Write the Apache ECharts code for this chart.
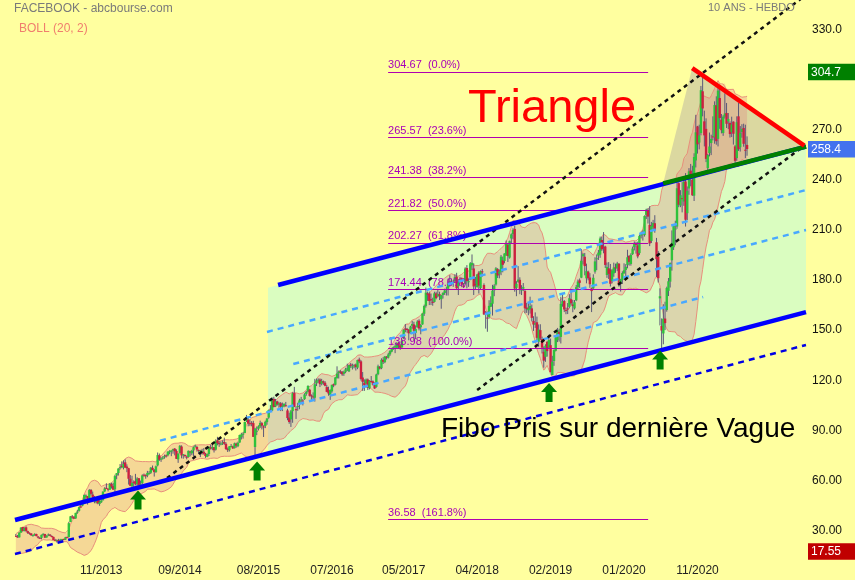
<!DOCTYPE html>
<html><head><meta charset="utf-8">
<script src="https://cdn.jsdelivr.net/npm/echarts@6/dist/echarts.min.js"></script>
<style>html,body{margin:0;padding:0;background:#FFFF9F;}#c{width:855px;height:580px;}</style>
</head><body><div id="c"></div>
<script>
// ---------- DATA ----------
const firstWeek = '2012-12-17';
const totalWeeks = 463;                 // weekly categories incl. empty future weeks
const tickIdx = [50, 96, 142, 185, 227, 270, 313, 356, 399];
const tickLabels = ['11/2013','09/2014','08/2015','07/2016','05/2017','04/2018','02/2019','01/2020','11/2020'];
const yTickHidden = [0, 300, 360];

// closes of the 19 weeks before the first displayed candle (Bollinger warm-up)
const warmupCloses = [21.81,19.05,19.41,18.06,18.98,22.00,22.86,21.66,20.91,19.52,19.00,21.94,21.18,19.21,23.56,24.00,28.00,27.49,26.81];

// weekly candles [open, high, low, close]
const c2012 = [[26.8,27.9,26.1,26.26],[26.4,27.3,25.7,25.91],[25.9,28.9,25.8,28.76]];
const c2013 = [[28.7,31.96,28.65,31.72],[32.1,32.2,29.4,29.66],[29.8,31.9,29.5,31.54],[31.9,32.5,29.0,29.73],
[29.6,29.9,27.9,28.55],[28.6,28.9,27.5,28.32],[28.2,28.4,26.8,27.13],[27.2,27.5,26.3,27.25],
[27.3,28.3,26.8,27.96],[27.9,28.1,26.5,26.65],[26.4,26.7,25.3,25.73],[25.6,26.1,25.1,25.58],
[25.6,27.6,24.7,27.39],[27.4,28.3,26.9,28.02],[27.9,28.0,25.5,25.73],[25.8,27.1,25.8,26.85],[27.0,28.2,26.6,27.57],
[27.5,27.9,26.6,26.82],[26.7,27.1,25.9,26.25],[26.2,26.3,24.2,24.31],[24.4,25.0,23.9,24.35],
[24.3,24.7,22.8,24.33],[24.3,25.0,23.9,24.03],[24.0,25.0,23.6,24.53],[24.3,25.0,23.7,24.88],
[24.9,25.1,24.2,24.37],[24.5,26.2,24.3,25.88],[26.0,26.4,25.6,25.88],[26.1,35.2,25.8,34.36],[35.1,38.6,35.0,38.50],
[38.4,39.3,37.0,38.22],[38.2,38.6,36.9,37.08],[37.2,40.6,37.0,40.55],[40.9,42.3,40.0,41.29],
[41.8,44.3,41.3,43.95],[44.4,45.6,43.6,44.31],[44.9,47.6,44.5,47.49],[47.5,51.6,47.4,51.24],[50.1,51.6,48.9,51.04],
[50.6,50.6,45.5,49.11],[49.1,54.8,48.8,54.22],[54.3,54.8,51.0,51.95],[51.5,53.3,47.8,49.75],
[49.4,50.7,46.3,47.53],[46.9,49.2,46.2,49.01],[49.0,49.2,45.7,46.23],[45.9,48.2,44.8,47.01],
[46.9,49.8,46.5,47.94],[48.1,53.4,48.0,53.32],[53.4,55.9,53.1,55.12],[55.5,58.3,55.1,55.44],[55.0,55.2,53.4,54.56]];
const c2014 = [[54.4,58.4,54.4,57.94],[57.9,58.6,55.1,56.30],[56.6,58.6,54.4,54.45],[54.7,63.4,51.9,62.57],
[63.0,64.4,60.7,64.32],[64.4,67.3,62.9,67.09],[67.6,69.8,66.5,68.06],[68.7,71.4,67.3,68.46],
[67.5,72.0,66.6,69.80],[70.8,72.6,67.5,67.72],[68.3,69.6,64.9,67.24],[67.3,67.5,57.5,60.97],[61.0,63.2,56.6,56.75],
[56.5,62.8,54.7,58.53],[59.0,60.0,55.0,58.94],[59.6,63.9,57.0,57.71],[57.7,61.9,55.6,61.15],
[61.3,61.3,56.6,57.24],[57.6,59.9,56.6,58.02],[58.4,63.6,57.8,63.00],[63.4,64.1,62.2,63.30],
[63.2,63.6,61.0,62.50],[62.9,65.7,61.9,64.50],[64.3,65.6,63.4,64.50],[64.6,68.0,63.9,67.60],[67.5,68.9,66.0,66.29],
[66.3,66.8,62.3,64.97],[65.0,68.9,64.5,68.42],[69.0,76.7,68.4,75.19],[75.0,76.1,71.7,72.36],
[72.4,73.9,71.1,73.06],[73.5,74.5,72.5,73.63],[73.9,75.4,73.0,74.57],[75.0,75.5,73.7,74.82],
[75.0,77.4,74.4,77.26],[77.3,78.1,75.7,77.48],[77.2,78.0,74.5,77.91],[77.9,79.0,76.0,78.75],[79.0,79.4,75.0,77.44],
[77.6,78.6,72.8,72.91],[72.6,76.3,70.5,75.95],[76.5,81.2,76.0,80.67],[80.3,81.0,73.2,74.99],
[75.3,75.8,73.0,75.60],[75.2,75.5,73.8,74.88],[74.2,74.8,72.6,73.75],[74.0,77.9,73.6,77.70],
[77.3,77.7,74.4,76.84],[76.2,78.3,75.1,77.83],[78.0,80.3,74.5,79.88],[80.3,81.4,79.7,80.78],[80.0,80.6,77.2,78.45]];
const c2015 = [[78.2,78.5,75.7,77.74],[77.7,78.3,74.0,77.83],[76.9,78.9,75.4,77.65],[77.2,79.3,75.4,75.91],
[76.0,76.5,73.5,74.60],[74.1,76.1,73.9,75.74],[75.8,80.3,74.6,80.20],[79.9,81.4,78.5,78.97],
[79.2,81.2,78.1,80.00],[79.9,80.0,76.7,78.05],[78.4,84.6,77.9,83.80],[84.0,86.1,81.0,82.32],[82.5,83.6,80.1,81.67],
[81.6,83.4,81.0,82.04],[82.3,84.0,81.2,82.60],[83.0,85.6,81.3,81.99],[81.9,82.8,78.3,78.77],
[78.9,79.7,77.0,78.10],[78.1,80.5,77.3,80.41],[80.3,81.8,79.9,80.55],[80.4,80.8,78.8,79.19],
[79.3,82.6,79.1,82.20],[82.0,82.6,79.6,80.80],[80.5,83.2,79.9,82.51],[82.7,87.4,82.5,87.20],[85.9,88.5,84.5,87.55],
[87.3,88.9,85.0,87.95],[88.4,95.2,88.2,94.97],[95.5,99.2,94.9,96.95],[96.4,98.0,92.4,94.01],
[94.2,96.5,92.5,94.15],[94.5,95.5,92.4,94.30],[94.3,95.7,86.0,86.06],[80.0,91.5,75.0,91.01],[89.7,92.3,87.1,89.73],
[90.9,93.0,89.9,92.31],[92.3,95.8,91.4,94.40],[94.3,95.0,90.5,92.77],[92.3,93.0,86.0,92.07],
[92.6,95.8,91.3,95.10],[94.9,97.4,93.3,97.00],[97.6,102.4,96.9,102.19],[102.2,105.1,101.0,101.97],
[101.9,109.7,101.5,108.76],[108.8,110.1,103.7,103.95],[104.3,108.8,103.9,107.32],[107.3,107.7,104.8,105.45],[105.4,107.0,103.5,106.18],
[106.2,106.9,101.5,104.04],[104.2,106.6,101.5,104.60],[104.4,106.0,103.8,105.93],[105.0,107.0,104.2,104.66]];
const c2016 = [[101.9,102.9,96.0,97.33],[97.6,100.5,93.9,94.97],[96.5,102.2,92.0,101.42],[101.5,112.8,94.5,112.21],
[112.3,116.0,103.9,104.07],[102.7,104.2,96.8,102.01],[104.3,106.5,101.7,104.57],[105.8,108.9,102.6,107.92],[108.0,110.0,106.2,108.39],
[107.8,108.7,104.9,107.70],[108.7,112.2,108.2,111.45],[111.8,113.6,110.7,112.95],[113.1,116.9,112.7,116.60],
[114.3,114.8,110.2,110.63],[110.9,111.5,108.2,110.56],[110.3,112.7,107.9,110.10],[109.5,120.8,107.2,117.58],
[118.1,121.0,116.5,119.81],[120.0,121.1,118.4,120.30],[120.4,121.1,115.9,117.65],[117.8,120.8,116.9,119.47],[119.3,119.8,117.2,118.47],
[118.5,119.4,116.3,116.62],[115.9,117.2,112.8,113.02],[113.8,116.1,110.7,112.08],[111.2,114.5,108.2,114.19],
[113.3,117.3,112.5,117.24],[117.6,118.0,115.8,116.86],[117.3,121.9,116.9,121.63],[121.3,128.3,120.9,123.94],
[124.2,125.8,121.0,125.15],[125.3,126.0,123.8,124.90],[125.0,125.5,122.6,123.50],[123.8,125.7,122.6,124.96],[125.0,127.4,124.2,126.51],
[126.5,129.9,125.5,127.10],[125.3,129.3,124.9,129.07],[129.4,130.3,127.4,128.65],[127.6,129.9,126.4,128.27],
[128.4,129.6,127.1,128.99],[129.4,130.0,125.8,127.88],[127.5,132.3,126.6,132.07],[132.4,133.5,130.2,131.29],[131.3,132.0,119.8,120.75],
[121.6,124.9,113.6,119.02],[118.5,120.5,113.6,117.02],[118.0,121.0,117.3,120.38],[120.4,121.0,114.1,115.40],
[115.2,120.0,114.5,119.68],[119.5,122.5,118.5,119.09],[119.3,119.9,116.8,117.27],[117.5,118.7,114.8,115.05]];
const c2017 = [[116.0,123.9,115.5,123.41],[123.6,129.3,123.0,128.34],[128.0,128.5,126.4,127.04],[127.2,133.1,126.6,132.18],[132.2,133.8,129.7,130.98],
[130.8,134.5,130.2,134.19],[134.0,134.5,132.4,133.53],[133.5,136.4,133.0,135.44],[135.5,138.0,134.6,137.42],
[137.1,139.4,136.7,138.71],[139.0,140.2,138.2,139.84],[139.8,141.4,136.2,140.34],[139.4,142.8,139.0,142.05],
[142.3,142.9,138.8,140.78],[140.9,141.7,138.2,139.39],[139.7,144.3,139.4,143.68],[145.0,150.5,144.6,150.25],
[151.0,153.6,148.7,150.24],[150.7,151.3,148.4,150.33],[150.2,150.7,143.9,148.06],[148.4,152.6,147.9,152.13],[152.6,155.5,150.8,153.63],
[153.4,155.0,143.5,149.60],[148.3,152.8,144.6,150.64],[151.7,155.9,151.5,155.07],[155.6,156.5,149.8,150.98],
[151.7,153.6,147.5,153.00],[153.4,160.0,153.2,159.97],[159.8,165.2,158.5,164.43],[164.5,175.5,163.5,172.45],[172.0,173.1,167.5,171.18],
[171.9,173.1,165.0,167.40],[168.5,171.9,165.0,167.80],[167.0,169.4,164.6,166.32],[166.9,173.0,166.5,172.02],
[172.0,173.0,168.4,169.15],[170.2,174.0,169.7,171.64],[171.5,173.0,168.0,170.54],[168.5,171.1,162.8,170.87],
[171.0,172.7,168.9,172.23],[172.2,174.8,171.1,173.74],[174.0,176.0,170.7,174.56],[174.8,180.8,170.7,177.88],[177.9,182.9,176.0,178.92],
[178.6,180.8,176.7,178.77],[178.5,180.0,175.9,179.00],[179.4,183.5,178.2,181.90],[182.0,184.3,174.0,175.10],
[176.3,180.5,171.0,179.00],[179.8,181.9,178.5,180.18],[181.0,181.5,175.7,177.20],[176.6,178.2,175.2,176.46]];
const c2018 = [[177.7,187.6,177.4,186.85],[187.2,188.9,175.0,179.37],[178.9,181.0,175.9,179.26],[180.0,190.7,179.9,190.00],[188.8,195.3,186.0,190.28],
[186.9,190.0,171.0,176.11],[177.6,181.8,174.5,177.36],[175.8,183.6,175.4,183.29],[184.4,185.3,171.9,176.62],
[175.2,185.7,174.5,185.23],[185.2,186.6,182.0,185.09],[177.0,178.0,159.0,159.39],[160.8,161.4,150.9,159.79],
[157.5,161.1,149.0,157.20],[157.9,167.9,156.9,164.52],[164.0,170.2,163.8,166.28],[165.8,177.1,158.7,173.59],[173.8,177.5,170.3,176.61],
[177.3,187.7,176.6,186.99],[186.5,187.1,181.2,182.69],[183.8,186.3,181.0,184.92],[184.9,195.0,182.9,193.99],
[191.8,194.0,184.6,189.10],[191.4,196.0,190.0,195.85],[194.7,203.6,194.5,201.74],[201.1,202.0,190.8,194.32],
[193.4,203.6,192.8,203.23],[204.9,207.9,202.0,207.32],[207.5,211.0,204.4,209.94],[210.6,212.5,173.0,174.89],[175.3,179.3,170.3,177.78],
[178.9,188.3,178.3,180.26],[180.1,181.6,171.5,174.70],[173.7,176.9,171.0,174.64],[174.8,178.2,173.4,175.73],
[173.5,173.9,160.1,163.04],[163.5,166.3,160.3,162.53],[161.9,166.9,158.9,162.93],[162.4,170.0,159.9,164.46],
[163.0,165.3,155.2,157.33],[155.5,158.3,149.5,153.35],[153.3,160.6,151.3,154.05],[154.7,158.1,143.0,145.37],[143.0,153.4,140.0,150.35],
[150.0,153.5,144.1,144.96],[144.6,146.1,136.0,139.53],[137.0,140.2,127.5,131.73],[134.0,141.5,131.0,140.61],
[143.0,143.4,134.1,137.42],[139.6,147.2,138.9,144.06],[141.0,144.9,124.6,124.95],[123.1,134.6,123.0,131.09],[131.5,138.5,128.6,138.05]];
const c2019 = [[137.6,146.7,137.2,145.39],[144.0,151.3,142.8,150.04],[149.0,150.8,143.1,147.47],[145.9,170.0,142.0,165.71],
[165.7,171.7,164.0,167.33],[167.4,168.0,160.8,162.33],[162.0,163.5,159.5,161.89],[163.0,166.2,159.6,162.28],
[163.9,171.5,163.0,169.10],[168.5,174.3,164.8,165.98],[165.4,168.0,160.7,164.34],[163.0,168.0,162.3,166.69],
[167.8,177.0,167.3,175.72],[175.8,180.3,174.2,179.10],[179.8,180.9,175.3,178.28],[181.4,198.5,181.1,191.49],[194.2,196.2,189.3,195.47],
[193.9,196.2,182.8,188.34],[181.0,189.8,178.0,185.30],[185.0,185.6,179.8,181.06],[181.5,184.1,175.3,177.47],
[175.0,175.5,160.8,173.35],[175.0,183.4,174.0,181.33],[185.0,193.6,183.8,191.14],[192.4,195.3,185.9,193.00],
[194.6,198.0,192.0,196.40],[195.2,206.0,193.3,204.87],[204.0,206.0,197.4,198.36],[199.9,208.7,196.0,199.75],[200.0,200.5,187.2,189.02],
[183.0,190.5,181.3,187.85],[187.0,190.7,180.6,183.70],[186.2,189.6,176.1,177.75],[179.4,186.5,178.0,185.67],
[184.0,190.4,181.9,187.49],[187.6,189.8,184.3,187.19],[186.9,190.9,185.3,189.93],[189.8,190.0,176.0,177.10],[178.0,180.7,173.1,180.45],
[180.0,185.2,177.6,184.19],[184.0,190.0,183.7,185.85],[186.0,189.5,181.5,187.89],[189.0,198.1,187.0,193.62],
[194.5,194.8,188.6,190.84],[189.6,196.0,188.6,195.10],[195.5,200.0,195.0,198.82],[199.6,203.1,197.7,201.64],
[202.0,202.8,195.8,201.05],[200.7,203.0,193.0,194.11],[196.1,207.2,195.0,206.30],[206.6,209.0,204.9,208.10],[207.9,209.8,203.6,208.67]];
const c2020 = [[206.9,218.7,206.0,218.30],[219.0,222.7,216.5,222.14],[221.9,223.0,213.8,217.94],[213.0,224.2,200.3,201.91],
[203.4,214.8,202.1,212.33],[211.5,216.0,210.4,214.18],[214.0,218.8,208.3,210.18],[202.6,205.2,181.8,192.47],
[194.0,197.4,178.5,181.09],[169.0,175.0,152.8,170.28],[152.5,157.0,139.0,149.73],[148.0,165.5,141.5,156.79],[156.9,167.0,150.0,154.18],
[162.0,176.0,161.0,175.19],[173.5,181.2,170.4,179.24],[179.0,190.5,175.5,190.07],[191.8,209.7,185.6,202.27],
[199.6,213.2,198.0,212.35],[210.1,215.5,200.8,210.88],[212.0,240.9,210.7,234.91],[238.0,238.5,223.6,225.09],
[224.6,233.8,223.6,230.77],[229.0,238.6,220.5,228.58],[227.0,240.8,224.4,238.79],[239.0,244.0,212.0,216.08],[220.0,236.0,215.9,233.42],
[234.8,247.0,231.0,245.07],[245.5,249.5,236.1,242.03],[240.0,248.4,230.4,230.71],[230.5,255.9,227.3,253.67],
[251.6,278.9,247.4,268.44],[272.0,272.3,255.7,261.24],[262.3,273.0,258.2,266.61],[268.0,296.2,266.6,293.66],[293.0,302.0,278.0,282.73],
[275.0,281.4,260.0,266.61],[270.5,276.8,250.6,252.53],[247.0,255.5,244.1,254.82],[256.0,268.3,254.0,259.94],
[262.0,267.0,254.8,264.45],[266.0,278.0,263.6,265.93],[265.5,287.0,261.6,284.79],[284.6,290.0,261.0,263.11],
[264.5,296.0,260.0,293.41],[289.0,294.7,270.5,276.95],[276.0,279.4,267.8,269.70],[268.0,278.7,266.3,277.81],[277.8,291.8,276.7,279.70],
[280.0,286.0,271.0,273.55],[275.0,280.0,270.3,276.40],[274.0,275.0,265.3,267.40],[268.5,277.8,265.6,273.16]];
const c2021 = [[274.8,275.0,261.1,267.57],[260.0,260.8,250.1,251.36],[253.0,278.0,251.4,274.50],[278.0,286.0,257.3,258.33],
[259.5,272.2,256.9,268.10],[268.6,273.3,265.2,270.50],[271.0,273.6,259.8,261.56],[258.0,273.0,253.0,257.62],[260.9,266.0,254.4,258.40]];

// annotation lines, in [week index, price]
const upperChannel = [[153.5,177.0],[462.5,259.9]];
const greenSegment = [[378.9,237.9],[462.5,259.9]];
const lowerChannel = [[-0.5,36.3],[462.5,160.8]];
const lowerDotted  = [[-0.5,15.9],[462.5,141.1]];
const lightBlue0 = [[84.4,83.8],[402.3,169.8]];
const lightBlue1 = [[147.0,148.9],[462.5,233.9]];
const lightBlue2 = [[162.4,129.7],[462.5,209.9]];
const blackDot1 = [[88.5,61.4],[462.5,350.7]];
const blackDot2 = [[270.0,114.1],[462.0,260.8]];
const redLine = [[395.9,306.9],[461.5,260.5]];
const channelPoly = [[147.6,76.1],[147.6,175.4],[462.5,259.9],[462.5,160.8]];
const trianglePoly = [[395.9,306.9],[378.9,237.9],[462.5,259.9]];
const fibLevels = [304.67,265.57,241.38,221.82,202.27,174.44,138.98,36.58];
const fibPct = ['0.0%','23.6%','38.2%','50.0%','61.8%','78.6%','100.0%','161.8%'];
const fibSpan = [217.9, 370.1];
const arrowPts = [[71.5,48.3],[141.2,65.6],[312.1,112.6],[377.1,132.1]];
const tagValues = [304.67, 258.4, 17.55];
const tagTexts = ['304.7','258.4','17.55'];

// ---------- BUILD ----------
const FONT = '"Liberation Sans", Arial, sans-serif';
const candles = [].concat(c2012,c2013,c2014,c2015,c2016,c2017,c2018,c2019,c2020,c2021);
const closes = candles.map(r => r[3]);
const cats = [];
{ const d0 = new Date(firstWeek + 'T00:00:00Z');
  for (let i = 0; i < totalWeeks; i++) { const d = new Date(d0.getTime() + i*7*86400000); cats.push(d.toISOString().slice(0,10)); } }

function bollinger(cl, warm, n, k) {
  const all = warm.concat(cl), up = [], lo = [];
  for (let j = warm.length; j < all.length; j++) {
    const w = all.slice(Math.max(0, j-n+1), j+1);
    const m = w.reduce((a,b)=>a+b,0)/w.length;
    const sd = Math.sqrt(w.reduce((a,b)=>a+(b-m)*(b-m),0)/w.length);
    up.push(m+k*sd); lo.push(m-k*sd);
  }
  return {up, lo};
}
const bb = bollinger(closes, warmupCloses, 20, 2);
const bbUp = bb.up.map((v,i)=>[i,v]);
const bbLo = bb.lo.map((v,i)=>[i,v]);

function lineSeries(data, color, width, type, z) {
  return {type:'line', xAxisIndex:1, data, symbol:'none', silent:true, z: z||5,
    lineStyle:{color, width, type: type||'solid', cap:'butt'}, animation:false};
}

const tagColors = ['#008000','#4372EE','#C00000'];
const chart = echarts.init(document.getElementById('c'), null, {renderer:'canvas'});
chart.setOption({
  animation:false,
  backgroundColor:'#FFFF9F',
  textStyle:{fontFamily:FONT},
  grid:{left:15, right:49, top:-20.6, bottom:-0.6, containLabel:false, outerBoundsMode:'none'},
  xAxis:[
    {type:'category', data:cats, boundaryGap:true, position:'bottom', offset:-20,
     axisLine:{show:false}, axisTick:{show:false}, splitLine:{show:false},
     axisLabel:{interval:(i)=>tickIdx.includes(i), formatter:(v,i)=>{const k=tickIdx.indexOf(i);return k>=0?tickLabels[k]:'';},
       color:'#222', fontSize:12, fontFamily:FONT, margin:4, hideOverlap:false}},
    {type:'value', min:-0.5, max:totalWeeks-0.5, show:false}
  ],
  yAxis:{type:'value', position:'right', min:0, max:360, interval:30, scale:false,
    axisLine:{show:false}, axisTick:{show:false}, splitLine:{show:false},
    axisLabel:{margin:6, color:'#111', fontSize:12, fontFamily:FONT,
      formatter:(v)=> yTickHidden.includes(v) ? '' : (v>=100 ? v.toFixed(1) : v.toFixed(2))}},
  graphic:[
    {type:'text', left:14, top:2.5, z:100, style:{text:'FACEBOOK - abcbourse.com', fill:'#7A7A7A', fontSize:12, fontFamily:FONT}},
    {type:'text', left:19, top:23, z:100, style:{text:'BOLL (20, 2)', fill:'#F07E6E', fontSize:12, fontFamily:FONT}},
    {type:'text', left:708, top:2.5, z:100, style:{text:'10 ANS - HEBDO', fill:'#7A7A7A', fontSize:11, fontFamily:FONT}},
    {type:'text', left:468, top:86, z:100, style:{text:'Triangle', fill:'#FF0000', fontSize:47, fontFamily:FONT}},
    {type:'text', left:441, top:415, z:100, style:{text:'Fibo Pris sur dernière Vague', fill:'#000', fontSize:28, fontFamily:FONT}}
  ],
  series:[
    {type:'custom', xAxisIndex:1, z:1, silent:true, clip:true, data:[[0,0]],
     renderItem:(p,api)=>({type:'group', children:[
       {type:'polygon', shape:{points:channelPoly.map(q=>api.coord(q))}, style:{fill:'#DAFDC0'}},
       {type:'polygon', shape:{points:trianglePoly.map(q=>api.coord(q))}, style:{fill:'rgba(150,140,165,0.34)'}}
     ]})},
    {type:'custom', xAxisIndex:1, z:2, silent:true, clip:true, data:[[0,0]],
     renderItem:(p,api)=>{
       const pts = bbUp.map(q=>api.coord(q)).concat(bbLo.slice().reverse().map(q=>api.coord(q)));
       return {type:'polygon', shape:{points:pts}, style:{fill:'rgba(222,125,130,0.30)'}};
     }},
    lineSeries(bbUp, '#E8907C', 1, 'solid', 3),
    lineSeries(bbLo, '#E8907C', 1, 'solid', 3),
    {type:'custom', xAxisIndex:1, z:4, silent:true, clip:true,
     encode:{x:0, y:[1,2,3,4]},
     data:candles.map((r,i)=>[i,r[0],r[1],r[2],r[3]]),
     renderItem:(p,api)=>{
       const i=api.value(0), o=api.value(1), h=api.value(2), l=api.value(3), c=api.value(4);
       const ph=api.coord([i,h]), pl=api.coord([i,l]), po=api.coord([i,o]), pc=api.coord([i,c]);
       const x=ph[0], top=Math.min(po[1],pc[1]), hgt=Math.max(1,Math.abs(po[1]-pc[1]));
       return {type:'group', children:[
         {type:'line', shape:{x1:x, y1:ph[1], x2:x, y2:pl[1]}, style:{stroke:'#5B5878', lineWidth:1}},
         {type:'rect', shape:{x:x-1.2, y:top, width:2.4, height:hgt}, style:{fill: c>=o ? '#2EC23C' : '#CC1F3F'}}
       ]};
     }},
    lineSeries(lightBlue0, '#48A8FF', 2.5, [6,5], 5),
    lineSeries(lightBlue1, '#48A8FF', 2.5, [6,5], 5),
    lineSeries(lightBlue2, '#48A8FF', 2.5, [6,5], 5),
    lineSeries(blackDot1, '#111', 2.5, [4,4], 5),
    lineSeries(blackDot2, '#111', 2.5, [4,4], 5),
    lineSeries(lowerDotted, '#0000E6', 2.5, [6,5], 5),
    lineSeries(upperChannel, '#0000FF', 4.5, 'solid', 6),
    lineSeries(lowerChannel, '#0000FF', 4.5, 'solid', 6),
    lineSeries(greenSegment, '#008000', 4.5, 'solid', 7),
    lineSeries(redLine, '#FF0000', 4.5, 'solid', 7),
    {type:'line', xAxisIndex:1, data:[[fibSpan[0], fibLevels[0]]], symbol:'none', silent:true, z:8,
     lineStyle:{width:0},
     markLine:{silent:true, symbol:'none', animation:false,
       lineStyle:{color:'#B000B0', width:1, type:'solid'},
       label:{position:'insideStartTop', distance:[0,1], color:'#A800B8', fontSize:11, fontFamily:FONT},
       data: fibLevels.map((v,k)=>[{coord:[fibSpan[0],v], label:{formatter: v.toFixed(2)+'  ('+fibPct[k]+')'}},{coord:[fibSpan[1],v]}])}},
    {type:'custom', xAxisIndex:1, z:20, silent:true, clip:false,
     data: tagValues.map((v,k)=>[totalWeeks-0.5, v, k]),
     renderItem:(p,api)=>{
       const pt = api.coord([api.value(0), api.value(1)]);
       const k = api.value(2);
       return {type:'group', children:[
         {type:'rect', shape:{x:pt[0]+2, y:pt[1]-8, width:47, height:16.5}, style:{fill:tagColors[k]}},
         {type:'text', style:{x:pt[0]+5, y:pt[1]+0.5, text:tagTexts[k], fill:'#fff', fontSize:12, fontFamily:FONT,
           align:'left', verticalAlign:'middle', textAlign:'left', textVerticalAlign:'middle'}}
       ]};
     }},
    {type:'scatter', xAxisIndex:1, z:9, silent:true, data:arrowPts,
     symbol:'path://M8,0 L16,9 L11.5,9 L11.5,19 L4.5,19 L4.5,9 L0,9 Z', symbolSize:[16,19],
     itemStyle:{color:'#008000', opacity:1}}
  ]
});
</script></body></html>
